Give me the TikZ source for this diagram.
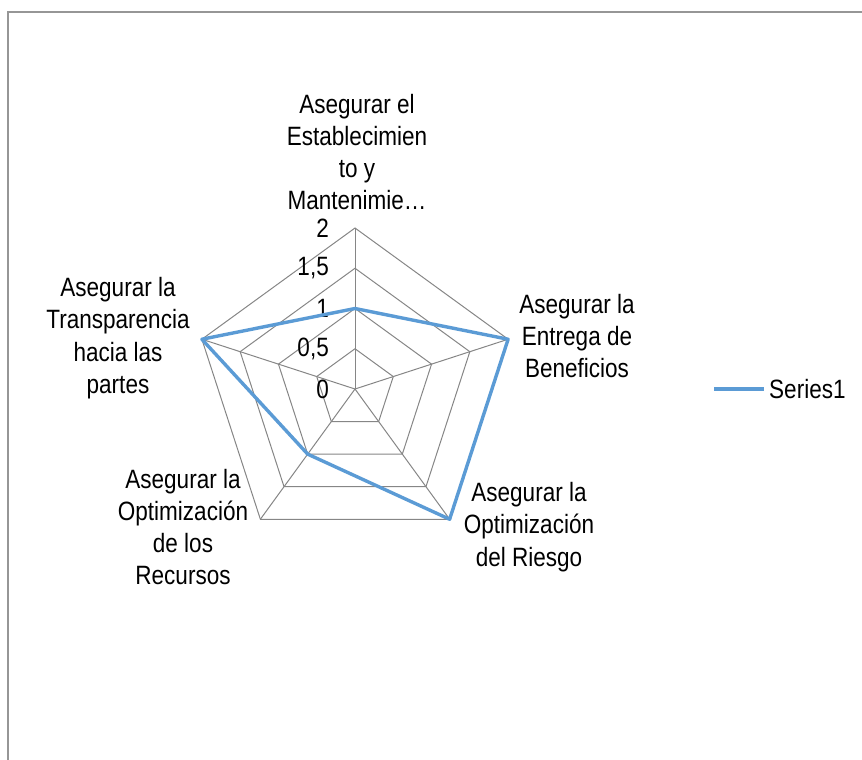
\documentclass[tikz,border=0pt]{standalone}
\usepackage{fontspec}
\setmainfont[FakeStretch=0.85]{Liberation Sans}
\usepackage{tikz}
\usetikzlibrary{positioning}
\usepackage{xcolor}
\definecolor{serieblue}{RGB}{91,155,213}
\definecolor{gridgray}{RGB}{134,134,134}
\definecolor{framegray}{RGB}{150,150,150}

\begin{document}
\begin{tikzpicture}[x=1pt,y=-1pt,
  gridline/.style={gridgray,line width=1pt},
  serie/.style={serieblue,line width=3.4pt,line join=round},
  catlabel/.style={align=center,font=\fontsize{26.5}{32.3}\selectfont,inner sep=0pt},
  ticklabel/.style={anchor=east,font=\fontsize{26.5}{30}\selectfont,inner sep=0pt}]
 \pgfmathsetmacro{\R}{161}
 \pgfmathsetmacro{\st}{\R/4}
 \useasboundingbox (0,0) rectangle (862,760);
 \draw[framegray,line width=1.4pt] (8,760) -- (8,12) -- (862,12);
 \begin{scope}[shift={(355,389)},y=1pt]
  \coordinate (O) at (0,0);
  \foreach \a [count=\i] in {90,18,-54,-126,162}
    \coordinate (v\i) at (\a:\R);
  \foreach \a in {90,18,-54,-126,162}
    \draw[gridline] (O) -- (\a:\R);
  \foreach \r in {1,...,4}
    \draw[gridline] (90:{\r*\st}) -- (18:{\r*\st}) -- (-54:{\r*\st}) -- (-126:{\r*\st}) -- (162:{\r*\st}) -- cycle;
  \foreach \r/\t in {0/0,1/{0,5},2/1,3/{1,5},4/2}
    \node[ticklabel] (t\r) at (-26,{\r*\st}) {\t};
  % datos
  \draw[serie] (90:{2*\st}) -- (18:{4*\st}) -- (-54:{4*\st}) -- (-126:{2*\st}) -- (162:{4*\st}) -- cycle;
 \end{scope}
 \node[catlabel] (establecimiento) at (357,152) {Asegurar el\\Establecimien\\to y\\Mantenimie…};
 \node[catlabel] (beneficios) at (577,336) {Asegurar la\\Entrega de\\Beneficios};
 \node[catlabel] (riesgo) at (529,527) {Asegurar la\\Optimización\\del Riesgo};
 \node[catlabel] (recursos) at (183,527) {Asegurar la\\Optimización\\de los\\Recursos};
 \node[catlabel] (transparencia) at (118,338) {Asegurar la\\Transparencia\\hacia las\\partes};
 % leyenda
 \coordinate (leyA) at (714,389);
 \coordinate (leyB) at (764,389);
 \draw[serie,line cap=butt] (leyA) -- (leyB);
 \node[catlabel,anchor=west] (serie1) at (769,389) {Series1};
\end{tikzpicture}
\end{document}
